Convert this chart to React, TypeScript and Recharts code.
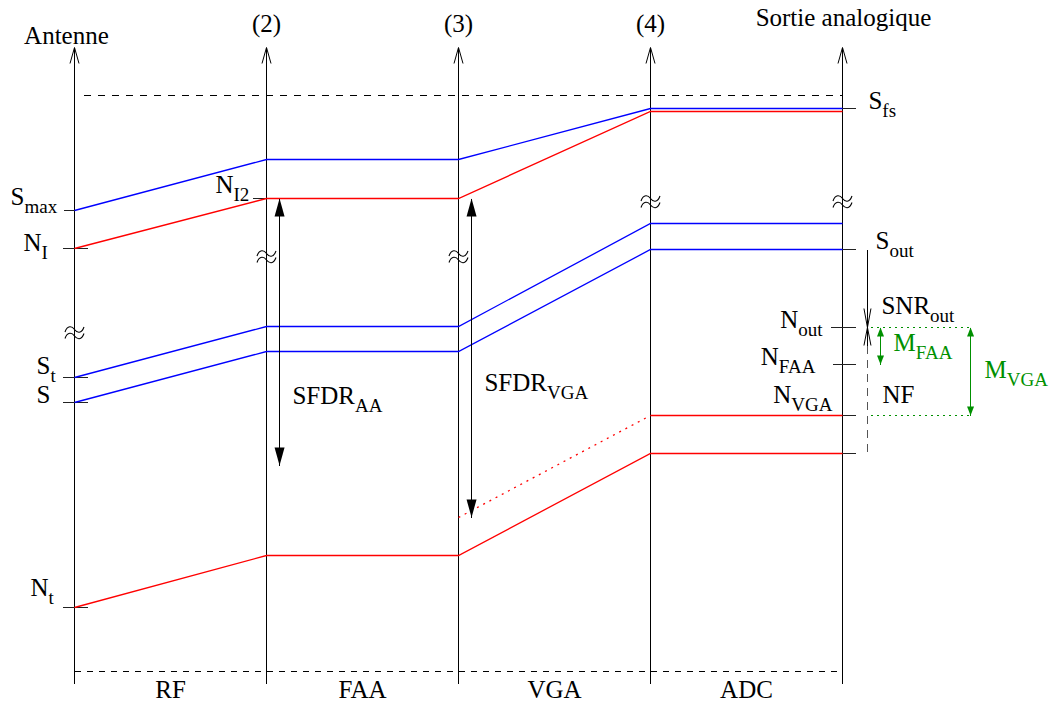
import { LineChart, Line, XAxis, YAxis, ReferenceLine, ReferenceDot } from 'recharts';

// stages: 0 = antenne, 1..3 = points (2)..(4), 4 = sortie analogique
const stages = [0, 1, 2, 3, 4];
const stageTitles = ['Antenne', '(2)', '(3)', '(4)', 'Sortie analogique'];
const blockNames = ['RF', 'FAA', 'VGA', 'ADC'];
const blockCenters = [0.5, 1.5, 2.5, 3.5];

// levels along the chain (arbitrary units, 0 = bottom of the diagram)
const sMax = [473, 524, 524, 575, 575];
const nI = [435, 485, 485, 572, 572];
const sT = [306, 357, 357, 460, 460];
const sIn = [281, 332, 332, 434, 434];
const nT = [76, 128, 128, 230, 230];
const nVgaStages = [2, 3, 4];
const nVga = [166, 268, 268];

const fullScale = 588;
const floorLevel = 12;
const axisTop = 636;
const nOut = 356;
const nFaa = 319;
const sfdrAaLow = 218;
const breakLevels = [351, 427, 427, 482, 482];

// view window of the chart (stage units / level units), half pixel offset keeps lines crisp
const X_MIN = -74.5 / 192;
const X_MAX = 981.5 / 192;
const Y_MIN = -21.5;
const Y_MAX = 683.5;

const SERIF = '"Liberation Serif", "Times New Roman", serif';
const BLUE = '#0000ff';
const RED = '#ff0000';
const GREEN = '#009000';

const pts = (xs: number[], ys: number[]) => xs.map((x, i) => ({ x, v: ys[i] }));

type Head = 'open' | 'filled' | undefined;
type ArrowOpts = { color?: string; width?: number; dash?: string; start?: Head; end?: Head; len?: number; half?: number };

const arrow = (o: ArrowOpts) => (p: any) => {
  const { x1, y1, x2, y2 } = p;
  const color = o.color ?? '#000';
  const len = o.len ?? 16;
  const half = o.half ?? 4;
  const dx = x2 - x1;
  const dy = y2 - y1;
  const L = Math.hypot(dx, dy) || 1;
  const ux = dx / L;
  const uy = dy / L;
  const head = (tx: number, ty: number, ex: number, ey: number, kind: Head) => {
    const bx = tx - ex * len;
    const by = ty - ey * len;
    const nx = -ey * half;
    const ny = ex * half;
    const points = `${bx + nx},${by + ny} ${tx},${ty} ${bx - nx},${by - ny}`;
    return kind === 'filled' ? (
      <polygon points={points} fill={color} />
    ) : (
      <polyline points={points} fill="none" stroke={color} strokeWidth={o.width ?? 1} />
    );
  };
  return (
    <g>
      <line
        x1={x1}
        y1={y1}
        x2={x2}
        y2={y2}
        stroke={color}
        strokeWidth={o.width ?? 1}
        strokeDasharray={o.dash}
        shapeRendering="crispEdges"
      />
      {o.end && head(x2, y2, ux, uy, o.end)}
      {o.start && head(x1, y1, -ux, -uy, o.start)}
    </g>
  );
};

// axis break sign drawn as two stacked tildes
const breakShape = (p: any) => {
  const wave = 'M-9.5,2.5 C-7,-4.5 -2.5,-3.5 0,0 C2.5,3.5 7,4.5 9.5,-2.5';
  return (
    <g transform={`translate(${p.cx},${p.cy})`} fill="none" stroke="#000" strokeWidth={1.1}>
      <path d={wave} transform="translate(0,-3)" />
      <path d={wave} transform="translate(0,3.5)" />
    </g>
  );
};

type Tag = { main: string; sub?: string; x: number; y: number; anchor?: 'start' | 'middle' | 'end'; color?: string; size?: number };

const tagShape = (t: Tag) => (p: any) => (
  <text x={p.cx} y={p.cy} textAnchor={t.anchor ?? 'start'} fontFamily={SERIF} fontSize={t.size ?? 25} fill={t.color ?? '#000'}>
    {t.main}
    {t.sub && (
      <tspan dy={8} fontSize={19}>
        {t.sub}
      </tspan>
    )}
  </text>
);

const tags: Tag[] = [
  { main: 'S', sub: 'max', x: -0.333, y: 479 },
  { main: 'N', sub: 'I', x: -0.266, y: 433 },
  { main: 'S', sub: 't', x: -0.198, y: 310 },
  { main: 'S', x: -0.198, y: 281 },
  { main: 'N', sub: 't', x: -0.229, y: 88 },
  { main: 'N', sub: 'I2', x: 0.734, y: 491 },
  { main: 'SFDR', sub: 'AA', x: 1.135, y: 280 },
  { main: 'SFDR', sub: 'VGA', x: 2.135, y: 293 },
  { main: 'S', sub: 'fs', x: 4.135, y: 575 },
  { main: 'S', sub: 'out', x: 4.172, y: 435 },
  { main: 'SNR', sub: 'out', x: 4.203, y: 370 },
  { main: 'N', sub: 'out', x: 3.896, y: 356, anchor: 'end' },
  { main: 'N', sub: 'FAA', x: 3.859, y: 319, anchor: 'end' },
  { main: 'N', sub: 'VGA', x: 3.948, y: 281, anchor: 'end' },
  { main: 'NF', x: 4.208, y: 281 },
  { main: 'M', sub: 'FAA', x: 4.266, y: 333, color: GREEN },
  { main: 'M', sub: 'VGA', x: 4.74, y: 306, color: GREEN },
  { main: stageTitles[0], x: -0.042, y: 640, anchor: 'middle' },
  { main: stageTitles[1], x: 1, y: 652, anchor: 'middle' },
  { main: stageTitles[2], x: 2, y: 652, anchor: 'middle' },
  { main: stageTitles[3], x: 3, y: 652, anchor: 'middle' },
  { main: stageTitles[4], x: 4.005, y: 658, anchor: 'middle' },
  ...blockNames.map((b, i) => ({ main: b, x: blockCenters[i], y: -14, anchor: 'middle' as const })),
];

// short level marks beside the axes: [x from, x to, level]
const marks: [number, number, number][] = [
  [-0.057, 0, sMax[0]],
  [-0.0625, 0.068, nI[0]],
  [-0.0625, 0.068, sT[0]],
  [-0.0625, 0.068, sIn[0]],
  [-0.0625, 0.068, nT[0]],
  [0.932, 1.068, nI[1]],
  [3.9375, 4.068, sMax[4]],
  [3.9375, 4.068, sIn[4]],
  [3.9375, 4.068, nOut],
  [3.953, 4.068, nFaa],
  [4, 4.068, nVga[2]],
  [3.9375, 4.068, nT[4]],
];

const seg = (xa: number, ya: number, xb: number, yb: number) => [
  { x: xa, y: ya },
  { x: xb, y: yb },
];

const lineProps = { dataKey: 'v', type: 'linear' as const, strokeWidth: 1.3, dot: false, activeDot: false, isAnimationActive: false };

export default function App() {
  return (
    <div style={{ position: 'absolute', left: 0, top: 0, width: 1056, height: 705, background: '#fff' }}>
      <LineChart width={1056} height={705} margin={{ top: 0, right: 0, bottom: 0, left: 0 }}>
        <XAxis type="number" dataKey="x" domain={[X_MIN, X_MAX]} allowDataOverflow hide />
        <YAxis type="number" domain={[Y_MIN, Y_MAX]} allowDataOverflow hide />

        {/* full scale and floor dashed lines */}
        <ReferenceLine segment={seg(0.047, fullScale, 4, fullScale)} ifOverflow="visible" shape={arrow({ dash: '7 7' })} />
        <ReferenceLine segment={seg(0, floorLevel, 4, floorLevel)} ifOverflow="visible" shape={arrow({ dash: '6 6' })} />

        {/* vertical axes with open arrow heads */}
        {stages.map((s) => (
          <ReferenceLine
            key={`ax${s}`}
            segment={seg(s, 0, s, axisTop)}
            ifOverflow="visible"
            shape={arrow({ end: 'open', len: 16, half: 4.5 })}
          />
        ))}

        {marks.map(([a, b, v], i) => (
          <ReferenceLine key={`mk${i}`} segment={seg(a, v, b, v)} ifOverflow="visible" shape={arrow({ color: '#222' })} />
        ))}

        <Line data={pts(stages, sMax)} stroke={BLUE} {...lineProps} />
        <Line data={pts(stages, nI)} stroke={RED} {...lineProps} />
        <Line data={pts(stages, sT)} stroke={BLUE} {...lineProps} />
        <Line data={pts(stages, sIn)} stroke={BLUE} {...lineProps} />
        <Line data={pts(stages, nT)} stroke={RED} {...lineProps} />
        <Line data={pts(nVgaStages.slice(0, 2), nVga.slice(0, 2))} stroke={RED} strokeDasharray="2 5" {...lineProps} />
        <Line data={pts(nVgaStages.slice(1), nVga.slice(1))} stroke={RED} {...lineProps} />

        {/* SFDR arrows */}
        <ReferenceLine
          segment={seg(1.068, nI[1], 1.068, sfdrAaLow)}
          ifOverflow="visible"
          shape={arrow({ start: 'filled', end: 'filled', len: 18, half: 5 })}
        />
        <ReferenceLine
          segment={seg(2.068, nI[2], 2.068, nVga[0])}
          ifOverflow="visible"
          shape={arrow({ start: 'filled', end: 'filled', len: 18, half: 5 })}
        />

        {/* output side: SNR, NF and margins */}
        <ReferenceLine segment={seg(4.13, sIn[4], 4.13, nOut)} ifOverflow="visible" shape={arrow({ end: 'open', len: 19, half: 3.5 })} />
        <ReferenceLine segment={seg(4.13, nOut - 18, 4.13, nOut)} ifOverflow="visible" shape={arrow({ end: 'open', len: 18, half: 3.5 })} />
        <ReferenceLine segment={seg(4.13, nOut - 18, 4.13, nT[4])} ifOverflow="visible" shape={arrow({ color: '#555', dash: '8 6' })} />

        <ReferenceLine segment={seg(4.146, nOut, 4.677, nOut)} ifOverflow="visible" shape={arrow({ color: GREEN, dash: '2 4' })} />
        <ReferenceLine segment={seg(4.146, nVga[2], 4.677, nVga[2])} ifOverflow="visible" shape={arrow({ color: GREEN, dash: '2 4' })} />
        <ReferenceLine
          segment={seg(4.198, nOut, 4.198, nFaa)}
          ifOverflow="visible"
          shape={arrow({ color: GREEN, start: 'filled', end: 'filled', len: 9, half: 3.5, width: 1.2 })}
        />
        <ReferenceLine
          segment={seg(4.667, nOut, 4.667, nVga[2])}
          ifOverflow="visible"
          shape={arrow({ color: GREEN, start: 'filled', end: 'filled', len: 9, half: 3.5, width: 1.2 })}
        />

        {/* axis breaks */}
        {stages.map((s, i) => (
          <ReferenceDot key={`br${s}`} x={s} y={breakLevels[i]} ifOverflow="visible" shape={breakShape} />
        ))}

        {tags.map((t, i) => (
          <ReferenceDot key={`tg${i}`} x={t.x} y={t.y} ifOverflow="visible" shape={tagShape(t)} />
        ))}
      </LineChart>
    </div>
  );
}
